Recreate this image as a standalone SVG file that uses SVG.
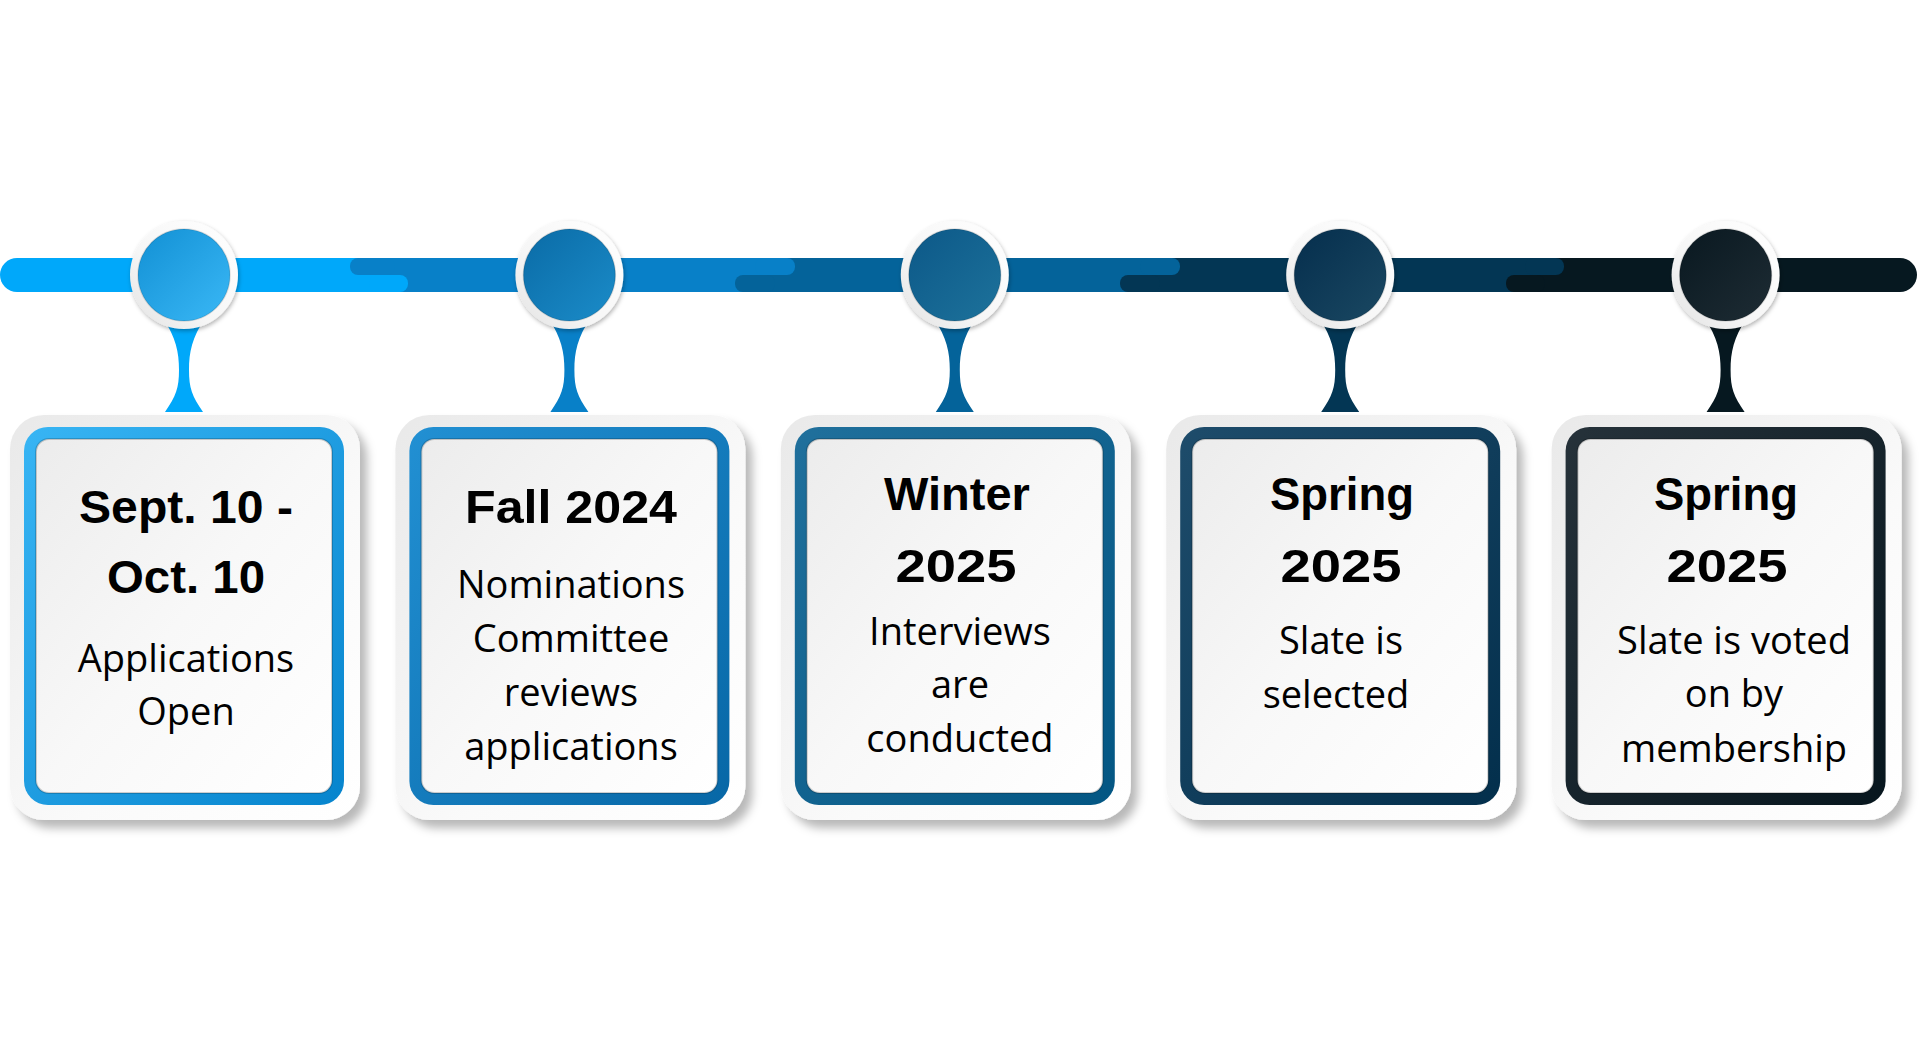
<svg xmlns="http://www.w3.org/2000/svg" width="1920" height="1060" viewBox="0 0 1920 1060">
<style>
.hd{font-family:"Liberation Sans",Arial,sans-serif;font-weight:bold;font-size:47px;fill:#000;text-anchor:middle}
.bd{font-family:"Open Sans","Noto Sans",sans-serif;font-size:38px;fill:#000;text-anchor:middle}
.frame{fill:url(#gFrame);filter:url(#fShadow)}
.inner{fill:url(#gInner);stroke:rgba(0,0,0,0.18);stroke-width:2}
.ring{fill:url(#gRing);filter:url(#fRing)}
.dot{stroke:rgba(0,0,0,0.12);stroke-width:1.5}
</style>
<defs>
<filter id="fShadow" x="-20%" y="-20%" width="140%" height="140%"><feDropShadow dx="7" dy="8" stdDeviation="5" flood-color="#000" flood-opacity="0.28"/></filter>
<filter id="fRing" x="-30%" y="-30%" width="160%" height="160%"><feDropShadow dx="1" dy="2" stdDeviation="2" flood-color="#000" flood-opacity="0.3"/></filter>
<linearGradient id="gFrame" x1="0" y1="0" x2="1" y2="1"><stop offset="0" stop-color="#e9e9e9"/><stop offset="0.6" stop-color="#fafafa"/><stop offset="1" stop-color="#ffffff"/></linearGradient>
<linearGradient id="gInner" x1="0" y1="0" x2="1" y2="1"><stop offset="0" stop-color="#ececec"/><stop offset="0.5" stop-color="#f8f8f8"/><stop offset="1" stop-color="#ffffff"/></linearGradient>
<linearGradient id="gRing" x1="1" y1="0" x2="0" y2="1"><stop offset="0" stop-color="#ffffff"/><stop offset="0.6" stop-color="#f6f6f6"/><stop offset="1" stop-color="#e2e2e2"/></linearGradient>
<linearGradient id="c1" x1="0" y1="0" x2="1" y2="1"><stop offset="0" stop-color="#1290d4"/><stop offset="1" stop-color="#3ab8f6"/></linearGradient>
<linearGradient id="c2" x1="0" y1="0" x2="1" y2="1"><stop offset="0" stop-color="#0a6ba6"/><stop offset="1" stop-color="#1b8cc9"/></linearGradient>
<linearGradient id="c3" x1="0" y1="0" x2="1" y2="1"><stop offset="0" stop-color="#0c5888"/><stop offset="1" stop-color="#1d729b"/></linearGradient>
<linearGradient id="c4" x1="0" y1="0" x2="1" y2="1"><stop offset="0" stop-color="#052e4d"/><stop offset="1" stop-color="#1a4862"/></linearGradient>
<linearGradient id="c5" x1="0" y1="0" x2="1" y2="1"><stop offset="0" stop-color="#091820"/><stop offset="1" stop-color="#1e2c34"/></linearGradient>
<linearGradient id="b1" x1="0" y1="0" x2="1" y2="1"><stop offset="0" stop-color="#38b5f4"/><stop offset="1" stop-color="#0684cd"/></linearGradient>
<linearGradient id="b2" x1="0" y1="0" x2="1" y2="1"><stop offset="0" stop-color="#2290d3"/><stop offset="1" stop-color="#0767a6"/></linearGradient>
<linearGradient id="b3" x1="0" y1="0" x2="1" y2="1"><stop offset="0" stop-color="#20709c"/><stop offset="1" stop-color="#035683"/></linearGradient>
<linearGradient id="b4" x1="0" y1="0" x2="1" y2="1"><stop offset="0" stop-color="#1e4c6b"/><stop offset="1" stop-color="#032f4c"/></linearGradient>
<linearGradient id="b5" x1="0" y1="0" x2="1" y2="1"><stop offset="0" stop-color="#26323a"/><stop offset="1" stop-color="#07161e"/></linearGradient>
</defs>
<rect width="1920" height="1060" fill="#ffffff"/>

<g id="connectors">
  <rect x="1515" y="258" width="402" height="34" rx="17" fill="#061820"/>
  <rect x="0" y="258" width="400" height="34" rx="17" fill="#00a8fa"/>
  <rect x="379" y="258" width="386" height="34" fill="#0880c8"/>
  <rect x="765" y="258" width="385" height="34" fill="#04639a"/>
  <rect x="1150" y="258" width="385" height="34" fill="#033654"/>
  <rect x="350" y="258" width="45" height="17" rx="8" fill="#0880c8"/>
  <rect x="369" y="275" width="39" height="17" rx="8" fill="#00a8fa"/>
  <rect x="755" y="258" width="40" height="17" rx="8" fill="#0880c8"/>
  <rect x="735" y="275" width="40" height="17" rx="8" fill="#04639a"/>
  <rect x="1140" y="258" width="40" height="17" rx="8" fill="#04639a"/>
  <rect x="1120" y="275" width="40" height="17" rx="8" fill="#033654"/>
  <rect x="1525" y="258" width="39" height="17" rx="8" fill="#033654"/>
  <rect x="1506" y="275" width="39" height="17" rx="8" fill="#061820"/>
</g>

<g id="node-1">
  <path d="M163,318 C176,338 179,352 179,370 C179,388 176,396 165,412 L203,412 C192,396 189,388 189,370 C189,352 192,338 205,318 Z" fill="#00a8fa"/>
  <circle class="ring" cx="184" cy="275" r="54"/>
  <circle class="dot" cx="184" cy="275" r="46" fill="url(#c1)"/>
  <rect class="frame" x="10" y="415" width="350" height="405" rx="34"/>
  <rect x="24" y="427" width="320" height="378" rx="24" fill="url(#b1)"/>
  <rect class="inner" x="36" y="439" width="296" height="354" rx="13"/>
  <text class="hd" x="186" y="523" textLength="214" lengthAdjust="spacingAndGlyphs">Sept. 10 -</text>
  <text class="hd" x="186" y="593" textLength="158" lengthAdjust="spacingAndGlyphs">Oct. 10</text>
  <text class="bd" x="186" y="672">Applications</text>
  <text class="bd" x="186" y="725">Open</text>
</g>

<g id="node-2">
  <path d="M548.4,318 C561.4,338 564.4,352 564.4,370 C564.4,388 561.4,396 550.4,412 L588.4,412 C577.4,396 574.4,388 574.4,370 C574.4,352 577.4,338 590.4,318 Z" fill="#0880c8"/>
  <circle class="ring" cx="569.4" cy="275" r="54"/>
  <circle class="dot" cx="569.4" cy="275" r="46" fill="url(#c2)"/>
  <rect class="frame" x="395.4" y="415" width="350" height="405" rx="34"/>
  <rect x="409.4" y="427" width="320" height="378" rx="24" fill="url(#b2)"/>
  <rect class="inner" x="421.4" y="439" width="296" height="354" rx="13"/>
  <text class="hd" x="571" y="523" textLength="212" lengthAdjust="spacingAndGlyphs">Fall 2024</text>
  <text class="bd" x="571" y="598">Nominations</text>
  <text class="bd" x="571" y="652">Committee</text>
  <text class="bd" x="571" y="706">reviews</text>
  <text class="bd" x="571" y="760">applications</text>
</g>

<g id="node-3">
  <path d="M933.8,318 C946.8,338 949.8,352 949.8,370 C949.8,388 946.8,396 935.8,412 L973.8,412 C962.8,396 959.8,388 959.8,370 C959.8,352 962.8,338 975.8,318 Z" fill="#04639a"/>
  <circle class="ring" cx="954.8" cy="275" r="54"/>
  <circle class="dot" cx="954.8" cy="275" r="46" fill="url(#c3)"/>
  <rect class="frame" x="780.8" y="415" width="350" height="405" rx="34"/>
  <rect x="794.8" y="427" width="320" height="378" rx="24" fill="url(#b3)"/>
  <rect class="inner" x="806.8" y="439" width="296" height="354" rx="13"/>
  <text class="hd" x="957" y="510">Winter</text>
  <text class="hd" x="956" y="582" textLength="121" lengthAdjust="spacingAndGlyphs">2025</text>
  <text class="bd" x="960" y="645">Interviews</text>
  <text class="bd" x="960" y="698">are</text>
  <text class="bd" x="960" y="752">conducted</text>
</g>

<g id="node-4">
  <path d="M1319.2,318 C1332.2,338 1335.2,352 1335.2,370 C1335.2,388 1332.2,396 1321.2,412 L1359.2,412 C1348.2,396 1345.2,388 1345.2,370 C1345.2,352 1348.2,338 1361.2,318 Z" fill="#033654"/>
  <circle class="ring" cx="1340.2" cy="275" r="54"/>
  <circle class="dot" cx="1340.2" cy="275" r="46" fill="url(#c4)"/>
  <rect class="frame" x="1166.2" y="415" width="350" height="405" rx="34"/>
  <rect x="1180.2" y="427" width="320" height="378" rx="24" fill="url(#b4)"/>
  <rect class="inner" x="1192.2" y="439" width="296" height="354" rx="13"/>
  <text class="hd" x="1342" y="510" textLength="144" lengthAdjust="spacingAndGlyphs">Spring</text>
  <text class="hd" x="1341" y="582" textLength="121" lengthAdjust="spacingAndGlyphs">2025</text>
  <text class="bd" x="1341" y="654">Slate is</text>
  <text class="bd" x="1336" y="708">selected</text>
</g>

<g id="node-5">
  <path d="M1704.6,318 C1717.6,338 1720.6,352 1720.6,370 C1720.6,388 1717.6,396 1706.6,412 L1744.6,412 C1733.6,396 1730.6,388 1730.6,370 C1730.6,352 1733.6,338 1746.6,318 Z" fill="#061820"/>
  <circle class="ring" cx="1725.6" cy="275" r="54"/>
  <circle class="dot" cx="1725.6" cy="275" r="46" fill="url(#c5)"/>
  <rect class="frame" x="1551.6" y="415" width="350" height="405" rx="34"/>
  <rect x="1565.6" y="427" width="320" height="378" rx="24" fill="url(#b5)"/>
  <rect class="inner" x="1577.6" y="439" width="296" height="354" rx="13"/>
  <text class="hd" x="1726" y="510" textLength="144" lengthAdjust="spacingAndGlyphs">Spring</text>
  <text class="hd" x="1727" y="582" textLength="121" lengthAdjust="spacingAndGlyphs">2025</text>
  <text class="bd" x="1734" y="654">Slate is voted</text>
  <text class="bd" x="1734" y="707">on by</text>
  <text class="bd" x="1734" y="762">membership</text>
</g>
</svg>
